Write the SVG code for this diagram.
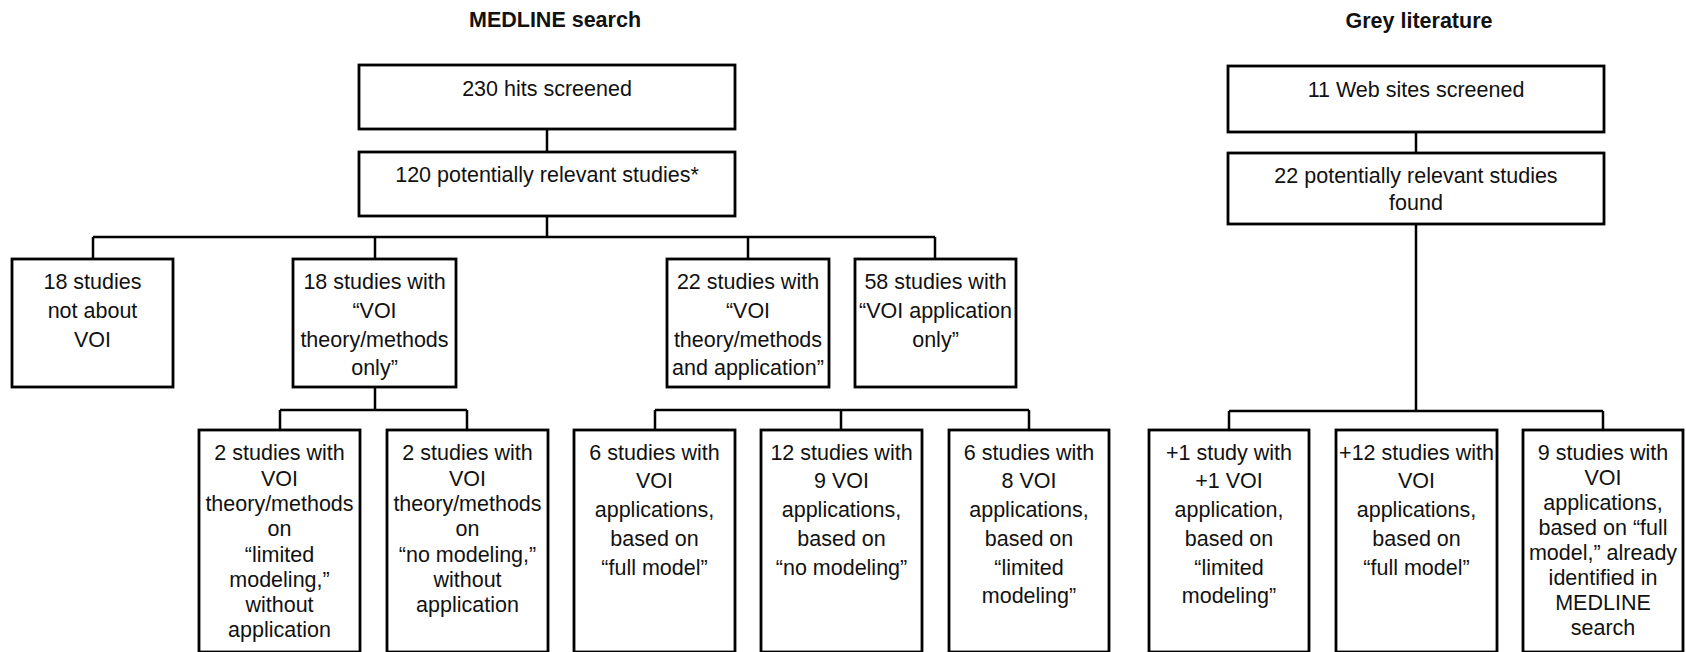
<svg xmlns="http://www.w3.org/2000/svg" width="1686" height="652" viewBox="0 0 1686 652">
<style>
.box{fill:#fff;stroke:#000;stroke-width:2.8}
.conn{fill:none;stroke:#000;stroke-width:2.5}
.t{font-family:"Liberation Sans",Arial,sans-serif;font-size:21.5px;fill:#111;text-anchor:middle}
.title{font-family:"Liberation Sans",Arial,sans-serif;font-size:21.5px;font-weight:bold;fill:#111;text-anchor:middle}
</style>
<rect width="1686" height="652" fill="#fff"/>
<g id="connectors">
<path class="conn" d="M547 129V152M547 216V237M93 237H935M93 237V259M375 237V259M748 237V259M935 237V259"/>
<path class="conn" d="M375 387V410M280 410H467M280 410V430M467 410V430"/>
<path class="conn" d="M655 410H1029M655 410V430M841 410V430M1029 410V430"/>
<path class="conn" d="M1416 132V153M1416 224V411M1229 411H1603M1229 411V430M1603 411V430"/>
</g>
<g id="title-medline"><text class="title" x="555" y="27">MEDLINE search</text></g>
<g id="title-grey"><text class="title" x="1419" y="28">Grey literature</text></g>
<g id="n-230"><rect class="box" x="359" y="65" width="376" height="64"/><text class="t" x="547" y="96">230 hits screened</text></g>
<g id="n-120"><rect class="box" x="359" y="152" width="376" height="64"/><text class="t" x="547" y="182">120 potentially relevant studies*</text></g>
<g id="n-web"><rect class="box" x="1228" y="66" width="376" height="66"/><text class="t" x="1416" y="97">11 Web sites screened</text></g>
<g id="n-22found"><rect class="box" x="1228" y="153" width="376" height="71"/><text class="t"><tspan x="1416" y="183">22 potentially relevant studies</tspan><tspan x="1416" y="210">found</tspan></text></g>
<g id="n-18not"><rect class="box" x="12" y="259" width="161" height="128"/><text class="t"><tspan x="92.5" y="289">18 studies</tspan><tspan x="92.5" y="318">not about</tspan><tspan x="92.5" y="347">VOI</tspan></text></g>
<g id="n-18with"><rect class="box" x="293" y="259" width="163" height="128"/><text class="t"><tspan x="374.5" y="289">18 studies with</tspan><tspan x="374.5" y="318">“VOI</tspan><tspan x="374.5" y="347">theory/methods</tspan><tspan x="374.5" y="375">only”</tspan></text></g>
<g id="n-22with"><rect class="box" x="667" y="259" width="162" height="128"/><text class="t"><tspan x="748" y="289">22 studies with</tspan><tspan x="748" y="318">“VOI</tspan><tspan x="748" y="347">theory/methods</tspan><tspan x="748" y="375">and application”</tspan></text></g>
<g id="n-58"><rect class="box" x="855" y="259" width="161" height="128"/><text class="t"><tspan x="935.5" y="289">58 studies with</tspan><tspan x="935.5" y="318">“VOI application</tspan><tspan x="935.5" y="347">only”</tspan></text></g>
<g id="n-a"><rect class="box" x="199" y="430" width="161" height="222"/><text class="t"><tspan x="279.5" y="460">2 studies with</tspan><tspan x="279.5" y="486">VOI</tspan><tspan x="279.5" y="511">theory/methods</tspan><tspan x="279.5" y="536">on</tspan><tspan x="279.5" y="562">“limited</tspan><tspan x="279.5" y="587">modeling,”</tspan><tspan x="279.5" y="612">without</tspan><tspan x="279.5" y="637">application</tspan></text></g>
<g id="n-b"><rect class="box" x="387" y="430" width="161" height="222"/><text class="t"><tspan x="467.5" y="460">2 studies with</tspan><tspan x="467.5" y="486">VOI</tspan><tspan x="467.5" y="511">theory/methods</tspan><tspan x="467.5" y="536">on</tspan><tspan x="467.5" y="562">“no modeling,”</tspan><tspan x="467.5" y="587">without</tspan><tspan x="467.5" y="612">application</tspan></text></g>
<g id="n-c"><rect class="box" x="574" y="430" width="161" height="222"/><text class="t"><tspan x="654.5" y="460">6 studies with</tspan><tspan x="654.5" y="488">VOI</tspan><tspan x="654.5" y="517">applications,</tspan><tspan x="654.5" y="546">based on</tspan><tspan x="654.5" y="575">“full model”</tspan></text></g>
<g id="n-d"><rect class="box" x="761" y="430" width="161" height="222"/><text class="t"><tspan x="841.5" y="460">12 studies with</tspan><tspan x="841.5" y="488">9 VOI</tspan><tspan x="841.5" y="517">applications,</tspan><tspan x="841.5" y="546">based on</tspan><tspan x="841.5" y="575">“no modeling”</tspan></text></g>
<g id="n-e"><rect class="box" x="949" y="430" width="160" height="222"/><text class="t"><tspan x="1029" y="460">6 studies with</tspan><tspan x="1029" y="488">8 VOI</tspan><tspan x="1029" y="517">applications,</tspan><tspan x="1029" y="546">based on</tspan><tspan x="1029" y="575">“limited</tspan><tspan x="1029" y="603">modeling”</tspan></text></g>
<g id="n-f"><rect class="box" x="1149" y="430" width="160" height="222"/><text class="t"><tspan x="1229" y="460">+1 study with</tspan><tspan x="1229" y="488">+1 VOI</tspan><tspan x="1229" y="517">application,</tspan><tspan x="1229" y="546">based on</tspan><tspan x="1229" y="575">“limited</tspan><tspan x="1229" y="603">modeling”</tspan></text></g>
<g id="n-g"><rect class="box" x="1336" y="430" width="161" height="222"/><text class="t"><tspan x="1416.5" y="460">+12 studies with</tspan><tspan x="1416.5" y="488">VOI</tspan><tspan x="1416.5" y="517">applications,</tspan><tspan x="1416.5" y="546">based on</tspan><tspan x="1416.5" y="575">“full model”</tspan></text></g>
<g id="n-h"><rect class="box" x="1523" y="430" width="160" height="222"/><text class="t"><tspan x="1603" y="460">9 studies with</tspan><tspan x="1603" y="485">VOI</tspan><tspan x="1603" y="510">applications,</tspan><tspan x="1603" y="535">based on “full</tspan><tspan x="1603" y="560">model,” already</tspan><tspan x="1603" y="585">identified in</tspan><tspan x="1603" y="610">MEDLINE</tspan><tspan x="1603" y="635">search</tspan></text></g>
</svg>
